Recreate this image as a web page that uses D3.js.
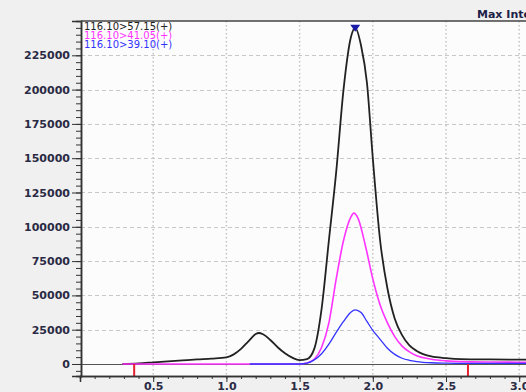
<!DOCTYPE html>
<html>
<head>
<meta charset="utf-8">
<script src="https://cdn.jsdelivr.net/npm/d3@7"></script>
<style>
  body { margin: 0; background: #f0f0f0; }
  svg { display: block; }
</style>
</head>
<body>
<svg id="chart" width="526" height="392"></svg>
<script>
// trace 116.10>57.15(+)
var blackRT = [0.29,0.4,0.5,0.6,0.7,0.8,0.9,1.0,1.05,1.1,1.15,1.2,1.22,1.25,1.3,1.35,1.4,1.45,1.5,1.55,1.6,1.65,1.7,1.75,1.8,1.85,1.88,1.92,1.96,2.0,2.05,2.1,2.15,2.2,2.25,2.3,2.4,2.5,2.6,2.8,3.0,3.2];
var blackInt = [0,500,1200,1900,2600,3300,3900,4800,7000,11000,16500,21800,22600,21700,17500,12200,7800,4600,2800,3500,11000,40000,90000,140000,200000,238000,245000,232000,205000,150000,90000,55000,33000,21000,13500,9500,5500,4300,3600,3300,3200,3300];
// trace 116.10>41.05(+)
var magentaRT = [0.29,1.5,1.55,1.6,1.65,1.7,1.75,1.8,1.85,1.87,1.9,1.95,2.0,2.05,2.1,2.15,2.2,2.25,2.3,2.4,2.5,2.6,2.8,3.0,3.2];
var magentaInt = [0,0,800,3500,12000,30000,62000,90000,107000,110000,106000,86000,62000,43000,30000,20000,13000,8800,6000,3500,2300,1700,1400,1300,1300];
// trace 116.10>39.10(+)
var blueRT = [1.16,1.5,1.55,1.6,1.65,1.7,1.75,1.8,1.85,1.88,1.92,1.96,2.0,2.05,2.1,2.15,2.2,2.25,2.3,2.4,2.5,2.6,2.8,3.0,3.2];
var blueInt = [0,0,600,3000,7500,14500,23000,31000,37800,39500,37500,31000,24500,18000,11500,7000,4200,2700,1800,900,600,500,400,400,400];

var traceNames = ["116.10>57.15(+)", "116.10>41.05(+)", "116.10>39.10(+)"];
var traceColors = ["#222222", "#ff33ff", "#3333ff"];
var markerRT = [0.37, 2.65];
var peakRT = 1.88, peakInt = 245000;

var svg = d3.select("#chart");
var plotLeft = 81, plotTop = 21, plotBottom = 376;

var x = d3.scaleLinear().domain([0, 3.2]).range([80, 80 + 146.4 * 3.2]);
var y = d3.scaleLinear().domain([-8750, 250000]).range([plotBottom, plotTop]);

// plot background
svg.append("rect")
  .attr("x", plotLeft).attr("y", plotTop)
  .attr("width", 526 - plotLeft).attr("height", plotBottom - plotTop)
  .style("fill", "#fcfcfc");

var g = svg.append("g");

// grid
var xMajor = d3.range(0.5, 3.21, 0.5);
var yMajor = d3.range(25000, 225001, 25000);
g.selectAll(".vg").data(xMajor).enter().append("line")
  .attr("x1", function(d) { return x(d); }).attr("x2", function(d) { return x(d); })
  .attr("y1", plotTop).attr("y2", plotBottom)
  .style("stroke", "#c4c4c4").style("stroke-width", 1.5)
  .style("stroke-dasharray", "1.5,2.5");
g.selectAll(".hg").data(yMajor).enter().append("line")
  .attr("x1", plotLeft).attr("x2", 526)
  .attr("y1", function(d) { return Math.round(y(d)) + 0.5; })
  .attr("y2", function(d) { return Math.round(y(d)) + 0.5; })
  .style("stroke", "#c8c8c8").style("stroke-width", 1)
  .style("stroke-dasharray", "4,3");

// zero line
g.append("line")
  .attr("x1", plotLeft).attr("x2", 526)
  .attr("y1", Math.round(y(0)) + 0.5).attr("y2", Math.round(y(0)) + 0.5)
  .style("stroke", "#555").style("stroke-width", 1);

// traces
var traces = [[blackRT, blackInt], [magentaRT, magentaInt], [blueRT, blueInt]];
var line = d3.line()
  .x(function(d) { return x(d[0]); })
  .y(function(d) { return y(d[1]); })
  .curve(d3.curveMonotoneX);
var widths = [1.8, 1.6, 1.3];
traces.forEach(function(t, i) {
  g.append("path")
    .datum(d3.zip(t[0], t[1]))
    .attr("d", line)
    .style("fill", "none")
    .style("stroke", traceColors[i])
    .style("stroke-width", widths[i]);
});

// red integration markers
g.selectAll(".mk").data(markerRT).enter().append("line")
  .attr("x1", function(d) { return x(d); }).attr("x2", function(d) { return x(d); })
  .attr("y1", y(0)).attr("y2", plotBottom)
  .style("stroke", "#e82030").style("stroke-width", 2);

// peak marker
var px = x(peakRT), py = y(peakInt);
g.append("path")
  .attr("d", "M" + (px - 5) + "," + (py - 3) + "L" + (px + 5) + "," + (py - 3) + "L" + px + "," + (py + 4) + "Z")
  .style("fill", "#1a1aa8");

// axes
var yAxis = d3.axisLeft(y).tickValues(d3.range(0, 225001, 25000))
  .tickSize(9).tickFormat(d3.format("d"));
var yMinor = d3.axisLeft(y).tickValues(d3.range(-5000, 250000, 5000))
  .tickSize(5).tickFormat("");
var xAxis = d3.axisBottom(x).tickValues(xMajor).tickSize(6)
  .tickFormat(d3.format(".1f"));
var xMinor = d3.axisBottom(x).tickValues(d3.range(0.1, 3.25, 0.1)).tickSize(3).tickFormat("");

svg.append("g").attr("transform", "translate(" + plotLeft + ",0)").call(yMinor);
var ya = svg.append("g").attr("transform", "translate(" + plotLeft + ",0)").call(yAxis);
svg.append("g").attr("transform", "translate(0," + plotBottom + ")").call(xMinor);
var xa = svg.append("g").attr("transform", "translate(0," + plotBottom + ")").call(xAxis);

svg.selectAll(".domain").style("stroke", "#333").style("stroke-width", 1.5);
svg.selectAll(".tick line").style("stroke", "#333");
svg.selectAll(".tick text")
  .style("font-family", "DejaVu Sans").style("font-size", "11px")
  .style("font-weight", "bold").style("fill", "#2a2a44");
ya.selectAll(".tick text").attr("x", -11);
xa.selectAll(".tick text").attr("y", 6);

// top border
svg.append("line")
  .attr("x1", plotLeft).attr("x2", 526).attr("y1", plotTop).attr("y2", plotTop)
  .style("stroke", "#444").style("stroke-width", 1.5);

// header
svg.append("text")
  .attr("x", 477).attr("y", 18)
  .style("font-family", "DejaVu Sans").style("font-size", "11px")
  .style("font-weight", "bold").style("fill", "#1c2248")
  .text("Max Intensity : 245,000");

// legend
var legY = [29.5, 38.5, 48];
svg.selectAll(".leg").data(traceNames).enter().append("text")
  .attr("x", 84).attr("y", function(d, i) { return legY[i]; })
  .style("font-family", "DejaVu Sans").style("font-size", "10px")
  .style("fill", function(d, i) { return traceColors[i]; })
  .text(function(d) { return d; });
</script>
</body>
</html>
